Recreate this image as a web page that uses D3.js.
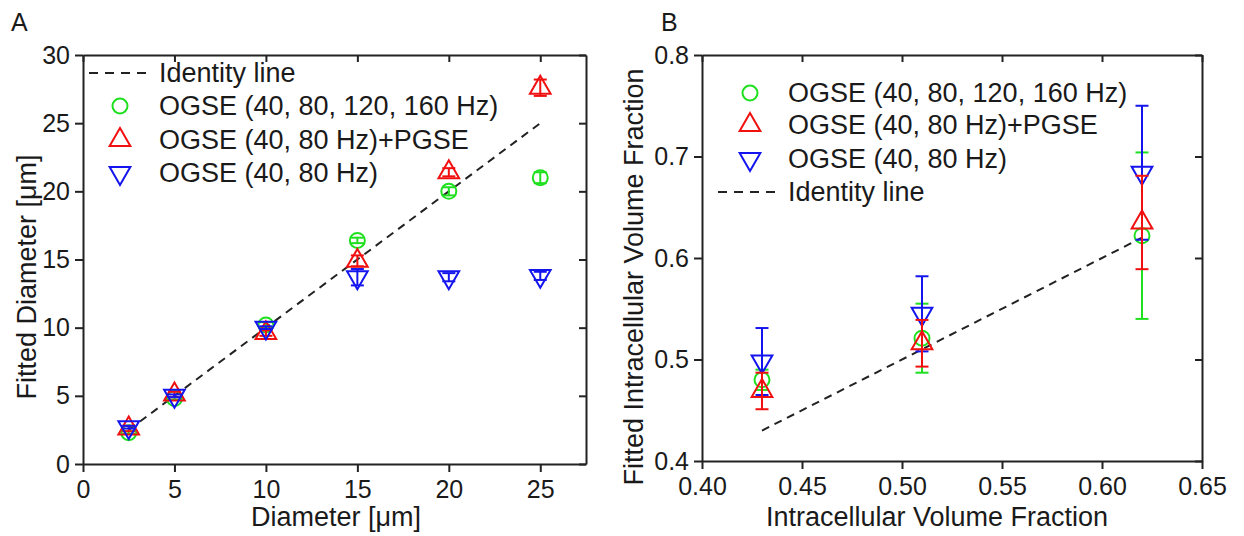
<!DOCTYPE html>
<html>
<head>
<meta charset="utf-8">
<script src="https://cdn.jsdelivr.net/npm/d3@7"></script>
<style>
  body { margin: 0; background: #fff; }
  text { font-family: "Liberation Sans", Arial, sans-serif; fill: #1a1a1a; }
</style>
</head>
<body>
<svg id="chart"></svg>
<script>
// panel A: fitted diameter vs diameter
var diamA = [2.5, 5, 10, 15, 20, 25];
var greenA = [2.3, 4.8, 10.2, 16.4, 20.0, 21.0];
var greenAErr = [0.1, 0.1, 0.2, 0.2, 0.3, 0.4];
var redA = [2.6, 5.1, 9.6, 14.9, 21.4, 27.6];
var redAErr = [0.2, 0.2, 0.2, 0.4, 0.3, 0.6];
var blueA = [2.7, 5.0, 10.0, 13.7, 13.7, 13.8];
var blueAErr = [0.1, 0.1, 0.1, 0.6, 0.3, 0.3];
var identityA = [2.5, 25];
var xTicksA = [0, 5, 10, 15, 20, 25];
var yTicksA = [0, 5, 10, 15, 20, 25, 30];

// panel B: fitted intracellular volume fraction
var fracB = [0.43, 0.51, 0.62];
var greenB = [0.480, 0.521, 0.622];
var greenBErr = [0.010, 0.034, 0.082];
var redB = [0.469, 0.516, 0.635];
var redBErr = [0.018, 0.023, 0.046];
var blueB = [0.498, 0.545, 0.684];
var blueBErr = [0.033, 0.037, 0.066];
var identityB = [0.43, 0.62];
var xTicksB = [0.40, 0.45, 0.50, 0.55, 0.60, 0.65];
var yTicksB = [0.4, 0.5, 0.6, 0.7, 0.8];

var seriesNames = ["OGSE (40, 80, 120, 160 Hz)", "OGSE (40, 80 Hz)+PGSE", "OGSE (40, 80 Hz)"];
var identityName = "Identity line";

var GREEN = "#1fe01f", RED = "#f01010", BLUE = "#1414ee";

var svg = d3.select("#chart").attr("width", 1244).attr("height", 536);

function marker(g, kind, color) {
    if (kind === "circle") {
        return g.append("circle").attr("r", 7.5)
            .attr("fill", "none").attr("stroke", color).attr("stroke-width", 2);
    }
    var p = g.append("path")
        .attr("d", d3.symbol().type(d3.symbolTriangle).size(185)())
        .attr("fill", "none").attr("stroke", color).attr("stroke-width", 2);
    return p;
}

function drawFrame(x, y, xTicks, yTicks, xFmt, yFmt) {
    var r = x.range(), t = y.range();
    var bottom = svg.append("g").attr("transform", "translate(0," + t[0] + ")")
        .call(d3.axisBottom(x).tickValues(xTicks).tickFormat(xFmt).tickSizeInner(8).tickSizeOuter(0).tickPadding(8));
    var left = svg.append("g").attr("transform", "translate(" + r[0] + ",0)")
        .call(d3.axisLeft(y).tickValues(yTicks).tickFormat(yFmt).tickSizeInner(8).tickSizeOuter(0).tickPadding(5));
    var top = svg.append("g").attr("transform", "translate(0," + t[1] + ")")
        .call(d3.axisTop(x).tickValues(xTicks).tickFormat("").tickSizeInner(-7).tickSizeOuter(0));
    var right = svg.append("g").attr("transform", "translate(" + r[1] + ",0)")
        .call(d3.axisRight(y).tickValues(yTicks).tickFormat("").tickSizeInner(-7).tickSizeOuter(0));
    [bottom, left, top, right].forEach(function (a) {
        a.attr("font-size", 25).attr("font-family", null);
        a.selectAll("path, line").attr("stroke", "#222").attr("stroke-width", 2);
        a.selectAll("text").attr("fill", "#1a1a1a");
    });
}

function drawSeries(x, y, xs, ys, errs, kind, color) {
    var g = svg.append("g");
    var pts = g.selectAll("g.pt").data(xs.map(function (d, i) { return [d, ys[i], errs[i]]; }))
        .enter().append("g").attr("class", "pt");
    pts.append("line")
        .attr("x1", function (d) { return x(d[0]); }).attr("x2", function (d) { return x(d[0]); })
        .attr("y1", function (d) { return y(d[1] - d[2]); }).attr("y2", function (d) { return y(d[1] + d[2]); })
        .attr("stroke", color).attr("stroke-width", 2);
    [-1, 1].forEach(function (s) {
        pts.append("line")
            .attr("x1", function (d) { return x(d[0]) - 6.5; }).attr("x2", function (d) { return x(d[0]) + 6.5; })
            .attr("y1", function (d) { return y(d[1] + s * d[2]); }).attr("y2", function (d) { return y(d[1] + s * d[2]); })
            .attr("stroke", color).attr("stroke-width", 2);
    });
    pts.each(function (d) {
        var m = marker(d3.select(this), kind, color);
        var rot = kind === "down" ? " rotate(180)" : "";
        m.attr("transform", "translate(" + x(d[0]) + "," + y(d[1]) + ")" + rot);
    });
}

function drawIdentity(x, y, ends) {
    svg.append("path")
        .attr("d", d3.line().x(function (d) { return x(d); }).y(function (d) { return y(d); })(ends))
        .attr("fill", "none").attr("stroke", "#222").attr("stroke-width", 2)
        .attr("stroke-dasharray", "8,6");
}

function legendRow(kind, color, mx, my, tx, label) {
    var g = svg.append("g");
    if (kind === "dash") {
        g.append("line").attr("x1", mx - 31).attr("x2", mx + 31).attr("y1", my).attr("y2", my)
            .attr("stroke", "#222").attr("stroke-width", 2).attr("stroke-dasharray", "9,7");
    } else {
        var m = marker(g, kind, color);
        m.attr("transform", "translate(" + mx + "," + my + ")" + (kind === "down" ? " rotate(180)" : ""));
    }
    g.append("text").attr("x", tx).attr("y", my).attr("dy", "0.35em")
        .attr("font-size", 27).text(label);
}

// ---- panel A
var xA = d3.scaleLinear().domain([0, 27.5]).range([83, 586]);
var yA = d3.scaleLinear().domain([0, 30]).range([464, 55]);
drawFrame(xA, yA, xTicksA, yTicksA, d3.format("d"), d3.format("d"));
drawIdentity(xA, yA, identityA);
drawSeries(xA, yA, diamA, greenA, greenAErr, "circle", GREEN);
drawSeries(xA, yA, diamA, redA, redAErr, "up", RED);
drawSeries(xA, yA, diamA, blueA, blueAErr, "down", BLUE);

legendRow("dash", "#222", 120, 73, 159, identityName);
legendRow("circle", GREEN, 120, 106, 159, seriesNames[0]);
legendRow("up", RED, 120, 140, 159, seriesNames[1]);
legendRow("down", BLUE, 120, 173, 159, seriesNames[2]);

svg.append("text").attr("x", 11).attr("y", 31).attr("font-size", 25).text("A");
svg.append("text").attr("x", 336).attr("y", 526).attr("text-anchor", "middle")
    .attr("font-size", 27).text("Diameter [\u03bcm]");
svg.append("text").attr("transform", "translate(36,277) rotate(-90)").attr("text-anchor", "middle")
    .attr("font-size", 27).text("Fitted Diameter [\u03bcm]");

// ---- panel B
var xB = d3.scaleLinear().domain([0.40, 0.65]).range([702, 1202]);
var yB = d3.scaleLinear().domain([0.4, 0.8]).range([461, 55]);
drawFrame(xB, yB, xTicksB, yTicksB, d3.format(".2f"), d3.format(".1f"));
drawIdentity(xB, yB, identityB);
drawSeries(xB, yB, fracB, greenB, greenBErr, "circle", GREEN);
drawSeries(xB, yB, fracB, blueB, blueBErr, "down", BLUE);
drawSeries(xB, yB, fracB, redB, redBErr, "up", RED);

legendRow("circle", GREEN, 750, 93, 788, seriesNames[0]);
legendRow("up", RED, 750, 125, 788, seriesNames[1]);
legendRow("down", BLUE, 750, 159, 788, seriesNames[2]);
legendRow("dash", "#222", 749, 192, 788, identityName);

svg.append("text").attr("x", 661).attr("y", 31).attr("font-size", 25).text("B");
svg.append("text").attr("x", 937).attr("y", 526).attr("text-anchor", "middle")
    .attr("font-size", 27).text("Intracellular Volume Fraction");
svg.append("text").attr("transform", "translate(643,277) rotate(-90)").attr("text-anchor", "middle")
    .attr("font-size", 27).text("Fitted Intracellular Volume Fraction");
</script>
</body>
</html>
